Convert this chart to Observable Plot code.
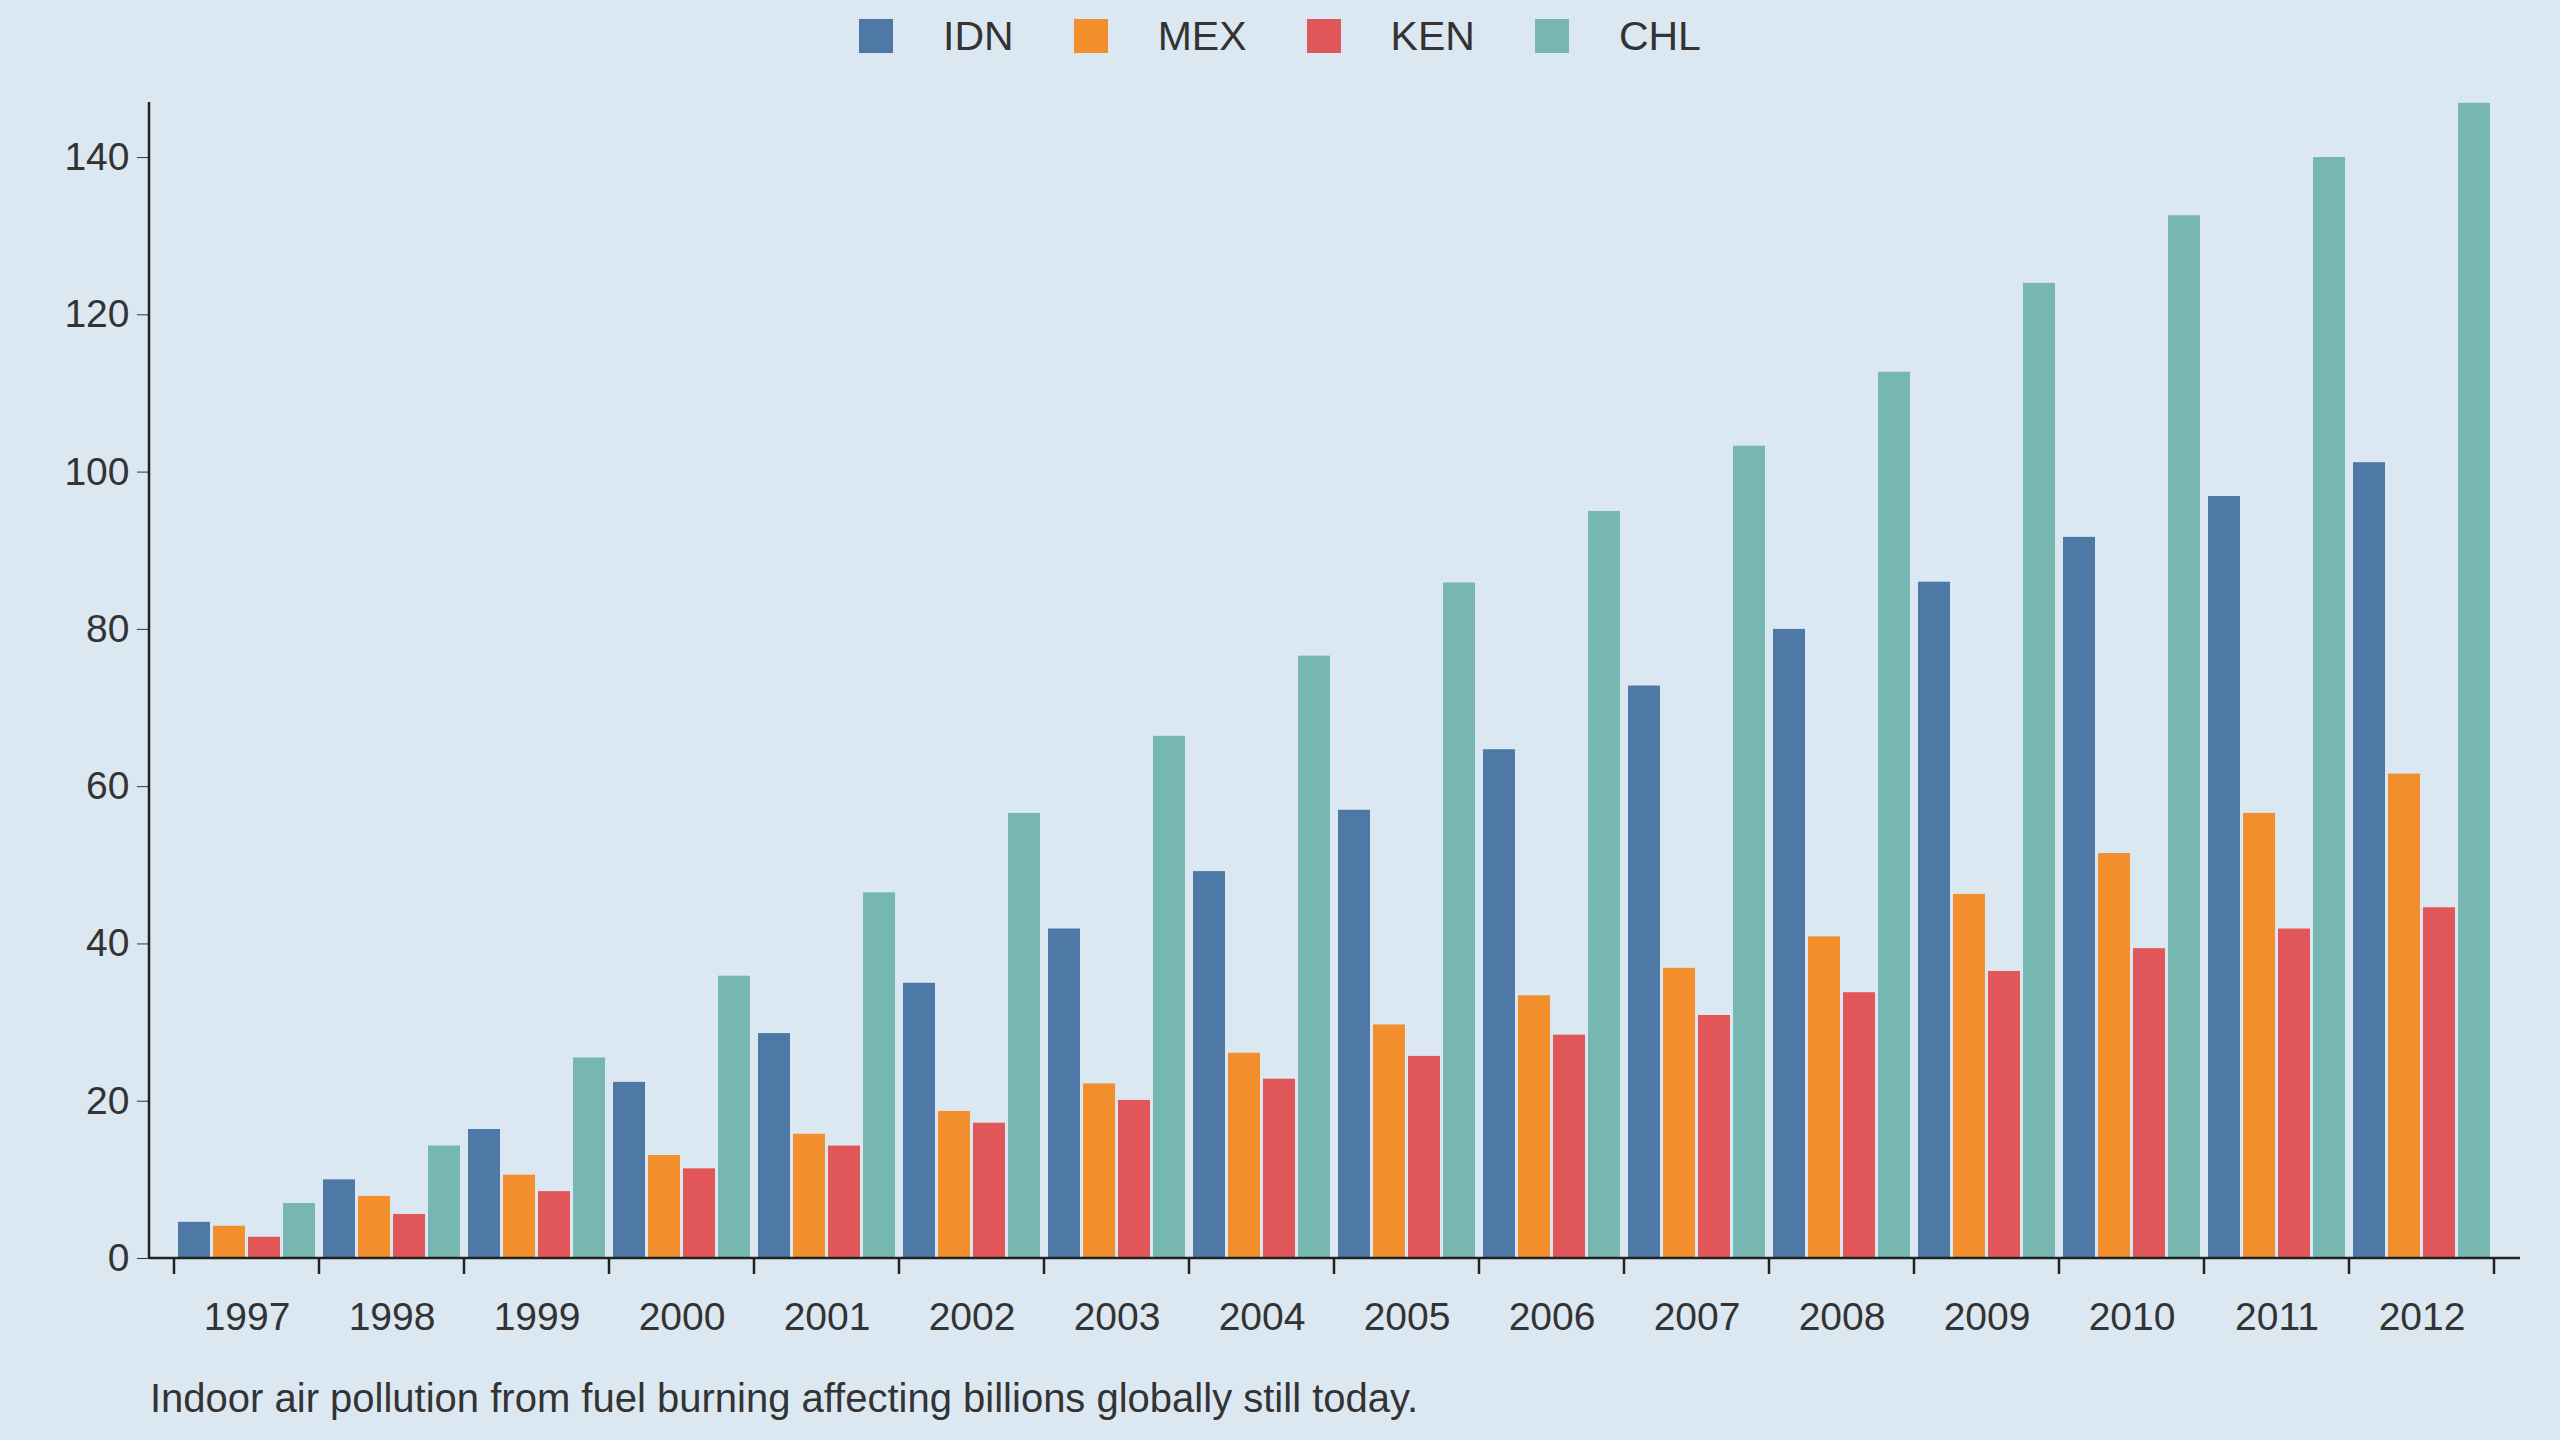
<!DOCTYPE html>
<html><head><meta charset="utf-8">
<script src="https://cdn.jsdelivr.net/npm/d3@7"></script>
<script src="https://cdn.jsdelivr.net/npm/@observablehq/plot@0.6"></script>
<style>
body{margin:0;background:#dce8f1;font-family:"Liberation Sans",Arial,sans-serif;color:#333;width:2560px;height:1440px;overflow:hidden}
#legend{height:72px;display:flex;justify-content:center;align-items:center;gap:0;font-size:41px;padding-top:0}
.item{display:flex;align-items:center;margin:0 30px}
.sw{width:34px;height:34px;margin-right:50px}
#cap{font-size:40px;margin-left:150px;margin-top:4px}
</style></head><body>
<div id="legend"></div>
<div id="chart"></div>
<div id="cap">Indoor air pollution from fuel burning affecting billions globally still today.</div>
<script>
const years = ["1997","1998","1999","2000","2001","2002","2003","2004","2005","2006","2007","2008","2009","2010","2011","2012"];
const countries = ["IDN","MEX","KEN","CHL"];
const colors = ["#4e79a7","#f28e2b","#e15759","#76b7b2"];
const IDN = [4.6,10,16.4,22.4,28.6,35,41.9,49.2,57,64.7,72.8,80,86,91.7,96.9,101.2];
const MEX = [4.1,7.9,10.6,13.1,15.8,18.7,22.2,26.1,29.7,33.4,36.9,40.9,46.3,51.5,56.6,61.6];
const KEN = [2.7,5.6,8.5,11.4,14.3,17.2,20.1,22.8,25.7,28.4,30.9,33.8,36.5,39.4,41.9,44.6];
const CHL = [7,14.3,25.5,35.9,46.5,56.6,66.4,76.6,85.9,95,103.3,112.7,124,132.6,140,146.9];
const series = {IDN, MEX, KEN, CHL};
const data = [];
years.forEach((y,i)=>countries.forEach(c=>data.push({year:y,country:c,value:series[c][i]})));

const leg = document.getElementById("legend");
countries.forEach((c,i)=>{leg.insertAdjacentHTML("beforeend",`<div class="item"><div class="sw" style="background:${colors[i]}"></div>${c}</div>`)});

const W=2560,H=1300,ML=173,MR=65,MT=30,MB=114,AXX=149,RIGHT=2520;
const chart = Plot.plot({
  width:W,height:H,marginLeft:ML,marginRight:MR,marginTop:MT,marginBottom:MB,
  style:{background:"transparent",fontSize:"39px",fontFamily:"Liberation Sans, Arial, sans-serif",color:"#333"},
  fx:{domain:years,paddingInner:0,paddingOuter:0,label:null,axis:"bottom",tickSize:0,tickPadding:44},
  x:{domain:countries,paddingInner:0.1,paddingOuter:0.08,axis:null},
  y:{domain:[0,147],label:null,axis:null},
  color:{domain:countries,range:colors},
  marks:[
    Plot.barY(data,{fx:"year",x:"country",y:"value",fill:"country"}),
    Plot.axisY({ticks:d3.range(0,141,20),dx:-(ML-AXX),tickSize:13,tickPadding:8,label:null,fontSize:39,facetAnchor:"left"})
  ]
});
document.getElementById("chart").appendChild(chart);
const y=chart.scale("y"), fx=chart.scale("fx");
const svg=d3.select(chart);
const g=svg.append("g").attr("stroke","#222").attr("stroke-width",2.5);
g.append("line").attr("x1",AXX).attr("x2",AXX).attr("y1",y.apply(0)).attr("y2",y.apply(147));
g.append("line").attr("x1",AXX).attr("x2",RIGHT).attr("y1",y.apply(0)).attr("y2",y.apply(0));
const bw=fx.bandwidth;
const bounds=years.map(v=>fx.apply(v)).concat([fx.apply(years[years.length-1])+bw]);
bounds.forEach(b=>g.append("line").attr("x1",b).attr("x2",b).attr("y1",y.apply(0)).attr("y2",y.apply(0)+16));
</script></body></html>
